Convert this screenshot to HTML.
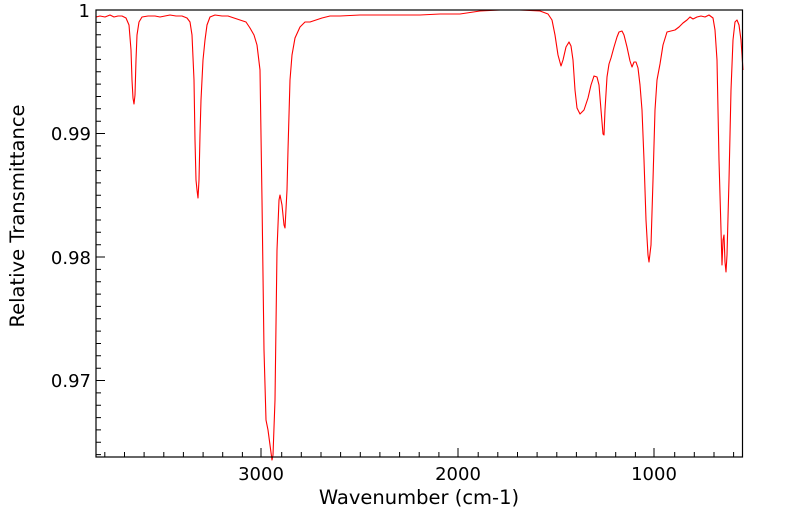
<!DOCTYPE html>
<html><head><style>body{margin:0;background:#fff}svg{display:block}</style></head><body>
<svg width="799" height="516" xmlns="http://www.w3.org/2000/svg" font-family="'DejaVu Sans','Liberation Sans',sans-serif">
<rect width="799" height="516" fill="#fff"/>
<polyline fill="none" stroke="#f00" stroke-width="1.1" stroke-linejoin="round" points="
96,17 100,16 105,17 110,15 114,17 118,16 122,16 126,18 129,25 131,50 132,80 133,98 134,104 135,95 136,60 137,35 139,22 142,17 148,16 155,16 160,17 165,16 170,15 176,16 182,16 187,18 190,22 192,35 194,80 195,140 196,180 197,190 198,198 199,180 200,135 201,100 203,60 205,40 207,25 210,17 215,15 222,16 228,16 234,18 240,20 246,22 250,28 254,35 257,45 260,70 262,200 264,350 266,420 268,430 270,445 272,460 273,455 275,400 277,250 279,200 280,195 282,205 284,225 285,228 287,190 288,150 290,80 292,55 295,38 300,27 305,22 310,22 316,20 322,18 330,16 340,16 360,15 380,15 400,15 420,15 440,14 460,14 480,11 500,10 520,10 540,11 548,14 552,20 555,35 558,55 561,66 563,60 566,47 569,42 571,46 573,60 575,90 577,108 580,114 584,110 588,98 591,85 594,76 597,77 599,85 601,110 603,134 604,135 605,110 607,77 609,64 611,58 614,47 617,37 619,32 622,31 624,35 627,47 630,61 632,67 634,62 636,62 638,68 640,85 642,110 644,160 646,220 648,255 649,262 651,245 653,180 655,110 657,80 660,64 663,45 667,32 671,31 675,30 679,27 683,23 687,20 690,17 693,19 697,17 701,16 705,17 709,15 713,18 715,30 717,60 719,160 721,230 722,265 723,240 724,235 725,262 726,272 727,255 729,180 731,90 733,40 735,22 737,20 739,25 741,40 743,70"/>
<rect x="96" y="10" width="646.5" height="447" fill="none" stroke="#000" stroke-width="1.2"/>
<g stroke="#000" stroke-width="1">
<path d="M96,10h9M96,22.4h5M96,34.7h5M96,47.1h5M96,59.4h5M96,71.8h5M96,84.1h5M96,96.5h5M96,108.8h5M96,121.2h5M96,133.5h9M96,145.9h5M96,158.2h5M96,170.6h5M96,182.9h5M96,195.3h5M96,207.6h5M96,220h5M96,232.3h5M96,244.7h5M96,257h9M96,269.4h5M96,281.7h5M96,294.1h5M96,306.4h5M96,318.8h5M96,331.1h5M96,343.5h5M96,355.8h5M96,368.2h5M96,380.5h9M96,392.9h5M96,405.2h5M96,417.6h5M96,429.9h5M96,442.3h5M96,454.6h5"/>
<path d="M104.8,457v-5M124.5,457v-5M144.1,457v-5M163.8,457v-5M183.4,457v-5M203.1,457v-5M222.7,457v-5M242.4,457v-5M261,457v-9M281.7,457v-5M301.3,457v-5M321,457v-5M340.6,457v-5M360.3,457v-5M379.9,457v-5M399.6,457v-5M419.2,457v-5M438.9,457v-5M458,457v-9M478.2,457v-5M497.8,457v-5M517.5,457v-5M537.1,457v-5M556.8,457v-5M576.4,457v-5M596.1,457v-5M615.7,457v-5M635.4,457v-5M654,457v-9M674.7,457v-5M694.3,457v-5M714,457v-5M733.6,457v-5"/>
</g>
<g font-size="18" fill="#000">
<text x="90" y="17" text-anchor="end">1</text>
<text x="91" y="140" text-anchor="end">0.99</text>
<text x="91" y="264" text-anchor="end">0.98</text>
<text x="91" y="387" text-anchor="end">0.97</text>
<text x="261" y="480" text-anchor="middle">3000</text>
<text x="458" y="480" text-anchor="middle">2000</text>
<text x="654" y="480" text-anchor="middle">1000</text>
<text x="419" y="504" text-anchor="middle" font-size="19.5">Wavenumber (cm-1)</text>
<text transform="translate(24,216) rotate(-90)" text-anchor="middle" font-size="19.5">Relative Transmittance</text>
</g>
</svg>
</body></html>
